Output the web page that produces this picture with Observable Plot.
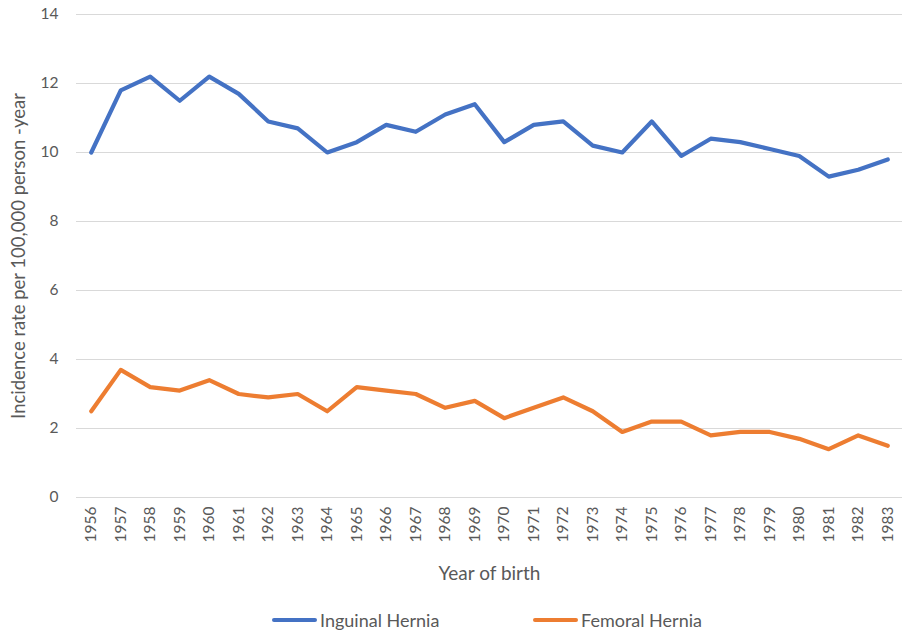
<!DOCTYPE html>
<html>
<head>
<meta charset="utf-8">
<script src="https://cdn.jsdelivr.net/npm/d3@7"></script>
<script src="https://cdn.jsdelivr.net/npm/@observablehq/plot@0.6"></script>
<style>
  body { margin: 0; background: #fff; font-family: Lato, "Open Sans", sans-serif; }
  #chart svg { display: block; }
  .legend { position: relative; height: 34px; font-size: 18px; color: #595959; }
  .item { position: absolute; top: 11px; display: flex; align-items: center; line-height: 1; }
  .sw { width: 45px; height: 4px; margin-right: 3px; border-radius: 2px; }
</style>
</head>
<body>
<div id="chart"></div>
<div class="legend" id="legend"></div>
<script>
const years = ["1956","1957","1958","1959","1960","1961","1962","1963","1964","1965","1966","1967","1968","1969","1970","1971","1972","1973","1974","1975","1976","1977","1978","1979","1980","1981","1982","1983"];
const inguinal = [10.0,11.8,12.2,11.5,12.2,11.7,10.9,10.7,10.0,10.3,10.8,10.6,11.1,11.4,10.3,10.8,10.9,10.2,10.0,10.9,9.9,10.4,10.3,10.1,9.9,9.3,9.5,9.8];
const femoral = [2.5,3.7,3.2,3.1,3.4,3.0,2.9,3.0,2.5,3.2,3.1,3.0,2.6,2.8,2.3,2.6,2.9,2.5,1.9,2.2,2.2,1.8,1.9,1.9,1.7,1.4,1.8,1.5];
const seriesNames = ["Inguinal Hernia", "Femoral Hernia"];
const seriesColors = ["#4472C4", "#ED7D31"];
const yTicks = [0,2,4,6,8,10,12,14];

const data = [];
years.forEach((y, i) => {
  data.push({year: y, value: inguinal[i], series: seriesNames[0]});
  data.push({year: y, value: femoral[i], series: seriesNames[1]});
});

const chart = Plot.plot({
  width: 905,
  height: 600,
  marginTop: 14,
  marginBottom: 103,
  marginLeft: 76,
  marginRight: 3,
  style: {fontFamily: "Lato, 'Open Sans', sans-serif", fontSize: "15.5px", color: "#595959", background: "#fff"},
  x: {type: "point", domain: years, padding: 0.5, round: false},
  y: {domain: [0, 14]},
  color: {domain: seriesNames, range: seriesColors},
  marks: [
    Plot.gridY(yTicks, {stroke: "#d9d9d9", strokeOpacity: 1, strokeWidth: 1}),
    Plot.axisY(yTicks, {tickSize: 0, tickPadding: 18, fontSize: 15.5, label: null}),
    Plot.axisY({ticks: [], tickSize: 0, label: "Incidence rate per 100,000 person -year", labelAnchor: "center", labelArrow: "none", labelOffset: 65, fontSize: 18.5}),
    Plot.axisX({tickSize: 0, tickPadding: 9, tickRotate: -90, fontSize: 15.5, label: null}),
    Plot.axisX({ticks: [], tickSize: 0, label: "Year of birth", labelAnchor: "center", labelArrow: "none", labelOffset: 82, fontSize: 19}),
    Plot.lineY(data, {x: "year", y: "value", z: "series", stroke: "series", strokeWidth: 4.2, strokeLinejoin: "round", strokeLinecap: "round"})
  ]
});
document.getElementById("chart").appendChild(chart);

const legend = document.getElementById("legend");
const lefts = [272, 533];
seriesNames.forEach((name, i) => {
  const it = document.createElement("div");
  it.className = "item";
  it.style.left = lefts[i] + "px";
  const sw = document.createElement("div");
  sw.className = "sw";
  sw.style.background = seriesColors[i];
  const t = document.createElement("span");
  t.textContent = name;
  it.appendChild(sw); it.appendChild(t);
  legend.appendChild(it);
});
</script>
</body>
</html>
